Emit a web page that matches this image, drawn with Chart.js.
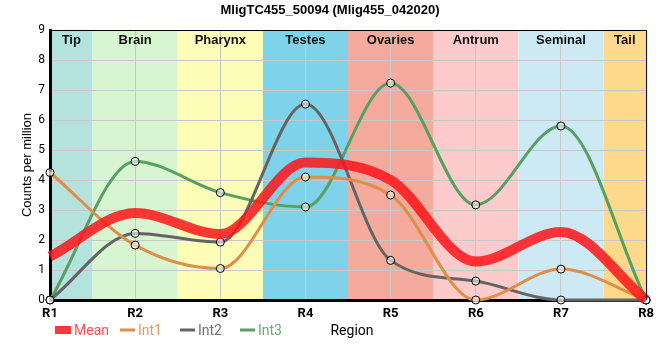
<!DOCTYPE html>
<html>
<head>
<meta charset="utf-8">
<script src="https://cdn.jsdelivr.net/npm/chart.js@4"></script>
<style>
  body { margin: 0; background: #fff; }
  #wrap { width: 660px; height: 360px; }
</style>
</head>
<body>
<div id="wrap"><canvas id="chart" width="660" height="360"></canvas></div>
<script>
// regions along the x axis
const regions = ['R1', 'R2', 'R3', 'R4', 'R5', 'R6', 'R7', 'R8'];

// values (counts per million)
const meanValues = [1.45, 2.9, 2.2, 4.58, 4.0, 1.28, 2.27, 0];
const int1Values = [4.25, 1.83, 1.05, 4.1, 3.5, 0, 1.03, 0];
const int2Values = [0, 2.22, 1.93, 6.53, 1.32, 0.63, 0, 0];
const int3Values = [0, 4.62, 3.58, 3.1, 7.23, 3.17, 5.8, 0];

// tissue bands (start / end given in region index units)
const bandNames = ['Tip', 'Brain', 'Pharynx', 'Testes', 'Ovaries', 'Antrum', 'Seminal', 'Tail'];
const bandStart = [0, 0.5, 1.5, 2.5, 3.5, 4.5, 5.5, 6.5];
const bandEnd = [0.5, 1.5, 2.5, 3.5, 4.5, 5.5, 6.5, 7];
const bandColors = ['#b4e2dd', '#d8f5d1', '#fdfdb8', '#7ed3ea', '#f4aa9c', '#fdcbcb', '#cdeaf4', '#fdd98b'];

const yTicks = [0, 1, 2, 3, 4, 5, 6, 7, 8, 9];

const seriesColors = {
    Mean: 'rgba(255, 20, 25, 0.85)',
    Int1: 'rgb(222, 142, 72)',
    Int2: 'rgb(100, 100, 100)',
    Int3: 'rgb(88, 160, 98)'
};
const legendTextColors = {
    Mean: '#ff4d4d',
    Int1: '#e69a60',
    Int2: '#707070',
    Int3: '#6aaa72'
};

const bandsPlugin = {
    id: 'bands',
    beforeDraw(chart) {
        const { ctx, chartArea, scales } = chart;
        ctx.save();
        bandNames.forEach((name, i) => {
            const x0 = scales.x.getPixelForValue(bandStart[i]);
            const x1 = scales.x.getPixelForValue(bandEnd[i]);
            ctx.fillStyle = bandColors[i];
            ctx.fillRect(x0, chartArea.top, x1 - x0, chartArea.bottom - chartArea.top);
        });
        ctx.restore();
    },
    afterDraw(chart) {
        const { ctx, chartArea, scales } = chart;
        ctx.save();
        // band labels
        ctx.font = 'bold 13px "Liberation Sans", Arial, sans-serif';
        ctx.fillStyle = '#111';
        ctx.textAlign = 'center';
        ctx.textBaseline = 'middle';
        bandNames.forEach((name, i) => {
            const x0 = scales.x.getPixelForValue(bandStart[i]);
            const x1 = scales.x.getPixelForValue(bandEnd[i]);
            ctx.fillText(name, (x0 + x1) / 2, chartArea.top + 10);
        });
        // thin frame on top and right
        ctx.strokeStyle = '#000';
        ctx.lineWidth = 1;
        ctx.beginPath();
        ctx.moveTo(chartArea.left, chartArea.top + 0.5);
        ctx.lineTo(chartArea.right + 0.5, chartArea.top + 0.5);
        ctx.lineTo(chartArea.right + 0.5, chartArea.bottom);
        ctx.stroke();

        // title
        ctx.font = 'bold 13px "Liberation Sans", Arial, sans-serif';
        ctx.fillStyle = '#000';
        ctx.fillText('MligTC455_50094 (Mlig455_042020)', 330, 10);

        // y axis title
        ctx.save();
        ctx.translate(27, (chartArea.top + chartArea.bottom) / 2);
        ctx.rotate(-Math.PI / 2);
        ctx.font = '13px "Liberation Sans", Arial, sans-serif';
        ctx.fillText('Counts per million', 0, 0);
        ctx.restore();

        // x axis title
        ctx.font = '14px Roboto, sans-serif';
        ctx.fillStyle = '#000';
        ctx.fillText('Region', 352, 331);

        // legend
        const items = [
            { name: 'Mean', x: 55, box: true },
            { name: 'Int1', x: 120 },
            { name: 'Int2', x: 180 },
            { name: 'Int3', x: 240 }
        ];
        const ly = 330;
        ctx.textAlign = 'left';
        ctx.font = '14px Roboto, sans-serif';
        items.forEach(it => {
            ctx.fillStyle = seriesColors[it.name];
            ctx.strokeStyle = seriesColors[it.name];
            let tx;
            if (it.box) {
                ctx.fillRect(it.x, ly - 4, 16, 8);
                tx = it.x + 19;
            } else {
                ctx.lineWidth = 3;
                ctx.beginPath();
                ctx.moveTo(it.x, ly);
                ctx.lineTo(it.x + 15, ly);
                ctx.stroke();
                tx = it.x + 18;
            }
            ctx.fillStyle = legendTextColors[it.name];
            ctx.fillText(it.name, tx, ly + 1);
        });
        ctx.restore();
    }
};

const pointStyle = {
    pointRadius: 4,
    pointHoverRadius: 4,
    pointBackgroundColor: 'rgba(255, 255, 255, 0.55)',
    pointBorderColor: '#000',
    pointBorderWidth: 1
};

new Chart(document.getElementById('chart'), {
    type: 'line',
    data: {
        labels: regions,
        datasets: [
            {
                label: 'Mean',
                data: meanValues,
                borderColor: seriesColors.Mean,
                borderWidth: 10,
                pointRadius: 0,
                cubicInterpolationMode: 'monotone',
                clip: false
            },
            Object.assign({
                label: 'Int1',
                data: int1Values,
                borderColor: seriesColors.Int1,
                borderWidth: 3,
                cubicInterpolationMode: 'monotone',
                clip: false
            }, pointStyle),
            Object.assign({
                label: 'Int2',
                data: int2Values,
                borderColor: seriesColors.Int2,
                borderWidth: 3,
                cubicInterpolationMode: 'monotone',
                clip: false
            }, pointStyle),
            Object.assign({
                label: 'Int3',
                data: int3Values,
                borderColor: seriesColors.Int3,
                borderWidth: 3,
                cubicInterpolationMode: 'monotone',
                clip: false
            }, pointStyle)
        ]
    },
    options: {
        responsive: false,
        animation: false,
        layout: { padding: { top: 30, right: 9, left: 0, bottom: 0 } },
        plugins: {
            legend: { display: false },
            title: { display: false },
            tooltip: { enabled: false }
        },
        scales: {
            x: {
                offset: false,
                grid: { color: '#c8c8c8', drawTicks: false },
                border: { color: '#000', width: 3 },
                ticks: {
                    color: '#000',
                    padding: 6,
                    font: { family: 'Roboto', size: 13, weight: 'bold' },
                    maxRotation: 0
                },
                afterFit(scale) { scale.height = 60; }
            },
            y: {
                min: 0,
                max: 9,
                grid: { color: '#c8c8c8', drawTicks: false },
                border: { color: '#000', width: 3 },
                ticks: {
                    color: '#000',
                    padding: 5,
                    stepSize: 1,
                    font: { family: 'Roboto', size: 12 },
                    callback: (v) => yTicks.includes(v) ? String(v) : ''
                },
                afterFit(scale) { scale.width = 50; }
            }
        }
    },
    plugins: [bandsPlugin]
});
</script>
</body>
</html>
